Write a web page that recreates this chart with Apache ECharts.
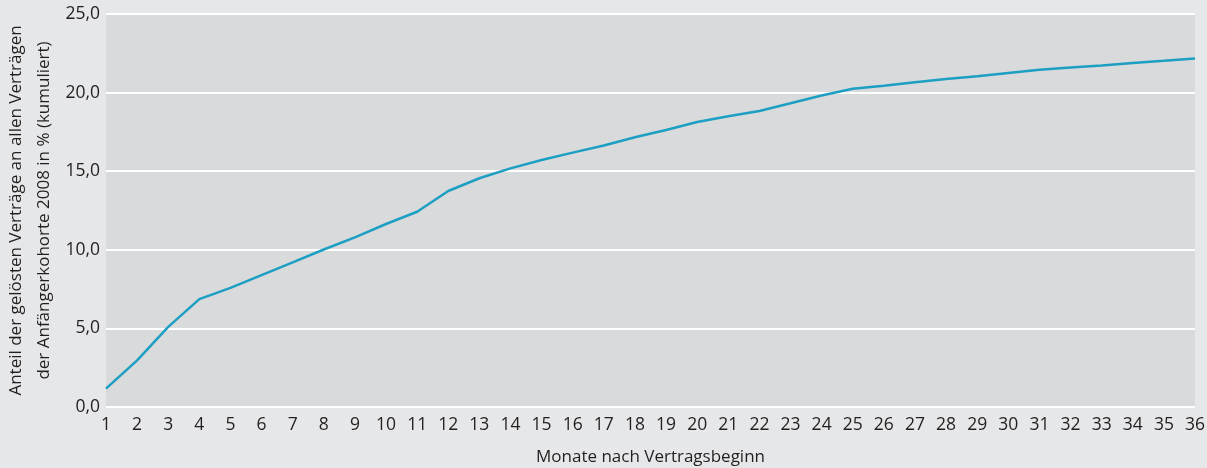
<!DOCTYPE html>
<html><head><meta charset="utf-8">
<script src="https://cdn.jsdelivr.net/npm/echarts@6/dist/echarts.min.js"></script>
<style>html,body{margin:0;padding:0;background:#e6e7e8;}#c{width:1207px;height:468px;}</style>
</head><body><div id="c"></div>
<script>
var months = ['1','2','3','4','5','6','7','8','9','10','11','12','13','14','15','16','17','18','19','20','21','22','23','24','25','26','27','28','29','30','31','32','33','34','35','36'];
var values = [1.17,2.97,5.1,6.86,7.58,8.39,9.2,10.02,10.79,11.64,12.42,13.74,14.55,15.18,15.71,16.18,16.63,17.16,17.62,18.13,18.5,18.83,19.32,19.82,20.24,20.43,20.66,20.87,21.04,21.25,21.45,21.6,21.72,21.88,22.02,22.17];
var yTicks = [0,5,10,15,20,25];
var font = "'Open Sans',sans-serif";
var chart = echarts.init(document.getElementById('c'));
chart.setOption({
  backgroundColor:'#e6e7e8',
  animation:false,
  grid:{left:106,right:12,top:14,bottom:61,show:true,backgroundColor:'#d9dadb',borderWidth:0,containLabel:false,outerBoundsMode:'none'},
  xAxis:{type:'category',data:months,boundaryGap:false,
    axisLine:{show:false},axisTick:{show:false},
    axisLabel:{color:'#231f20',fontSize:17.5,fontFamily:font,margin:9},
    name:'Monate nach Vertragsbeginn',nameLocation:'middle',nameGap:42,nameMoveOverlap:false,
    nameTextStyle:{color:'#231f20',fontSize:17,fontFamily:font}},
  yAxis:{type:'value',min:yTicks[0],max:yTicks[yTicks.length-1],interval:5,
    axisLine:{show:false},axisTick:{show:false},
    splitLine:{lineStyle:{color:'#ffffff',width:2}},
    axisLabel:{color:'#231f20',fontSize:17.5,fontFamily:font,margin:6,formatter:function(v){return v.toFixed(1).replace('.',',');}},
    name:'Anteil der gelösten Verträge an allen Verträgen\nder Anfängerkohorte 2008 in % (kumuliert)',
    nameLocation:'middle',nameGap:48,nameMoveOverlap:false,
    nameTextStyle:{color:'#231f20',fontSize:17,fontFamily:font,lineHeight:28}},
  series:[{type:'line',data:values,symbol:'none',lineStyle:{color:'#1c9fc2',width:2.5}}]
});
</script></body></html>
